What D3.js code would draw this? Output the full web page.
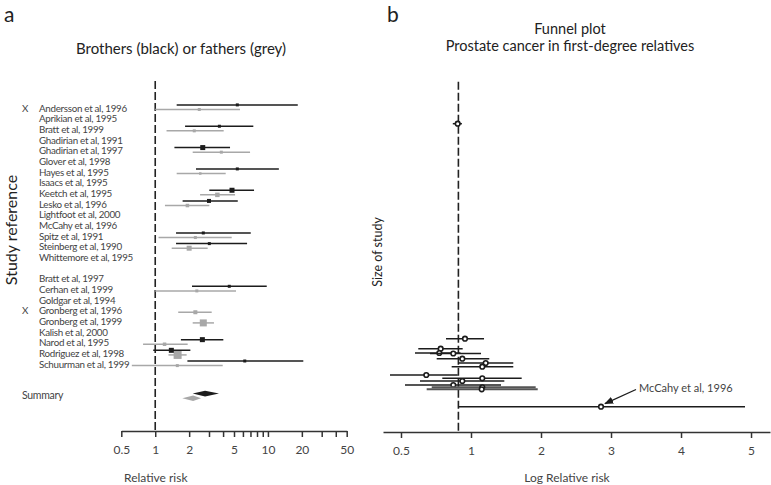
<!DOCTYPE html>
<html>
<head>
<meta charset="utf-8">
<style>
    body { margin: 0; background: #fff; }
    text { font-family: Lato, "Open Sans", sans-serif; }
    .axis path, .axis line { stroke: #333; stroke-width: 1.5; }
    .axis text { font-size: 12px; fill: #444; }
    .study { font-size: 9.8px; letter-spacing: -0.3px; fill: #444; }
</style>
</head>
<body>
<svg id="chart" width="771" height="485"></svg>
<script src="https://cdn.jsdelivr.net/npm/d3@7"></script>
<script>
// ---- panel a: forest plot data ----
const studies = ["Andersson et al, 1996", "Aprikian et al, 1995", "Bratt et al, 1999", "Ghadirian et al, 1991",
    "Ghadirian et al, 1997", "Glover et al, 1998", "Hayes et al, 1995", "Isaacs et al, 1995", "Keetch et al, 1995",
    "Lesko et al, 1996", "Lightfoot et al, 2000", "McCahy et al, 1996", "Spitz et al, 1991", "Steinberg et al, 1990",
    "Whittemore et al, 1995", "Bratt et al, 1997", "Cerhan et al, 1999", "Goldgar et al, 1994", "Gronberg et al, 1996",
    "Gronberg et al, 1999", "Kalish et al, 2000", "Narod et al, 1995", "Rodriguez et al, 1998", "Schuurman et al, 1999"]
const studyRow = [0,1,2,3,4,5,6,7,8,9,10,11,12,13,14,16,17,18,19,20,21,22,23,24]
const excluded = ["Andersson et al, 1996", "Gronberg et al, 1996"]

// brothers (black)
const brotherRR = [5.35, null, 3.71, null, 2.64, null, 5.35, null, 4.8, 3.0, null, null, 2.67, 3.02, null, null, 4.54, null, null, null, null, 2.62, 1.39, 6.23]
const brotherLo = [1.55, null, 1.84, null, 1.48, null, 2.3, null, 3.02, 1.75, null, null, 1.53, 1.53, null, null, 2.12, null, null, null, null, 1.69, 0.96, 1.93]
const brotherHi = [18.4, null, 7.42, null, 4.61, null, 12.5, null, 7.53, 5.4, null, null, 7.04, 6.53, null, null, 9.76, null, null, null, null, 4.02, 2.05, 20.6]
const brotherWeight = [3, 0, 3, 0, 5, 0, 3, 0, 5, 4, 0, 0, 3, 3, 0, 0, 3, 0, 0, 0, 0, 5, 5, 3]

// fathers (grey)
const fatherRR = [2.46, null, 2.22, null, 3.86, null, 2.51, null, 3.56, 1.93, null, null, 2.27, 2.0, null, null, 2.34, null, 2.27, 2.67, null, 1.21, 1.58, 1.57]
const fatherLo = [1.0, null, 1.26, null, 2.15, null, 1.55, null, 2.5, 1.22, null, null, 1.07, 1.4, null, null, 1.0, null, 1.6, 2.15, null, 0.78, 1.31, 0.62]
const fatherHi = [5.65, null, 4.05, null, 6.94, null, 4.22, null, 5.11, 3.02, null, null, 4.77, 2.92, null, null, 5.21, null, 3.17, 3.32, null, 1.94, 1.9, 3.97]
const fatherWeight = [3, 0, 3, 0, 3, 0, 2.5, 0, 4.5, 3.5, 0, 0, 3, 5, 0, 0, 3, 0, 4, 7, 0, 3.5, 8, 3]

// summary estimates [lo, rr, hi]
const summaryBrothers = [2.15, 2.77, 3.68]
const summaryFathers = [1.74, 2.17, 2.55]

const leftTicks = [0.5, 1, 2, 3, 4, 5, 6, 7, 8, 9, 10, 20, 30, 40, 50]
const leftTickLabels = [0.5, 1, 2, 5, 10, 20, 50]

// ---- panel b: funnel plot data ----
const funnelLogRR = [0.81, 0.914, 0.567, 0.547, 0.747, 0.876, 1.21, 1.161, 0.361, 1.161, 0.876, 0.747, 1.161, 1.153, 2.857]
const funnelLo = [0.74, 0.643, 0.247, 0.2, 0.414, 0.51, 0.819, 0.724, -0.157, 0.59, 0.271, 0.057, 0.439, 0.367, 0.819]
const funnelHi = [0.87, 1.186, 0.881, 0.85, 1.143, 1.261, 1.604, 1.604, 0.81, 1.724, 1.476, 1.429, 1.924, 1.953, 4.914]
const funnelSize = [308, 93, 83, 78.7, 78.2, 73, 68.7, 65, 56.7, 53.4, 50.7, 46.7, 44.4, 42.4, 25]
const funnelPooled = 0.82
const rightTicks = [0, 1, 2, 3, 4, 5]
const rightTickLabels = ["0.5", "1", "2", "3", "4", "5"]

const svg = d3.select("#chart")
const black = "#1c1c1c", grey = "#a8a8a8", darkGrey = "#555"

// ================= panel a =================
let xL = d3.scaleLog().domain([0.5, 50]).range([121.3, 346.7])
let yRow = d3.scaleLinear().domain([0, 27]).range([108.3, 396.4])

svg.append("text").attr("x", 4).attr("y", 22).attr("font-size", 21).attr("fill", "#222").text("a")
svg.append("text").attr("x", 181).attr("y", 54).attr("text-anchor", "middle")
    .attr("font-size", 15).attr("fill", "#222").text("Brothers (black) or fathers (grey)")

svg.append("text")
    .attr("transform", "translate(17,230) rotate(-90)")
    .attr("text-anchor", "middle").attr("font-size", 16).attr("fill", "#222")
    .text("Study reference")

// dashed line at RR = 1
svg.append("line")
    .attr("x1", xL(1)).attr("x2", xL(1))
    .attr("y1", 81).attr("y2", 430)
    .attr("stroke", "#222").attr("stroke-width", 1.6)
    .attr("stroke-dasharray", "8,3")

let rows = svg.append("g").selectAll("g")
    .data(studies.map((name, i) => ({
        name: name, row: studyRow[i],
        b: brotherRR[i] == null ? null : { rr: brotherRR[i], lo: brotherLo[i], hi: brotherHi[i], w: brotherWeight[i] },
        f: fatherRR[i] == null ? null : { rr: fatherRR[i], lo: fatherLo[i], hi: fatherHi[i], w: fatherWeight[i] }
    })))
    .enter()
    .append("g")
    .attr("transform", d => `translate(0,${yRow(d.row)})`)

rows.append("text")
    .attr("class", "study")
    .attr("x", 39).attr("dy", "0.35em")
    .text(d => d.name)

rows.filter(d => excluded.includes(d.name))
    .append("text")
    .attr("class", "study")
    .attr("x", 22).attr("dy", "0.35em")
    .text("X")

// draws one CI line with a square for the estimate
function drawEstimate(sel, key, colour, offset) {
    let g = sel.filter(d => d[key] != null)
    g.append("line")
        .attr("x1", d => xL(d[key].lo)).attr("x2", d => xL(d[key].hi))
        .attr("y1", offset).attr("y2", offset)
        .attr("stroke", colour).attr("stroke-width", 1.5)
    g.append("rect")
        .attr("x", d => xL(d[key].rr) - d[key].w / 2)
        .attr("y", d => offset - d[key].w / 2)
        .attr("width", d => d[key].w).attr("height", d => d[key].w)
        .attr("fill", colour)
}
drawEstimate(rows, "f", grey, 1.2)
drawEstimate(rows, "b", black, -3.4)

// summary diamonds
svg.append("text").attr("class", "study").attr("x", 22).attr("y", yRow(26.9)).attr("dy", "0.35em")
    .style("font-size", "10.5px").text("Summary")

function diamond(s, y, h) {
    return `M${xL(s[0])},${y} L${xL(s[1])},${y - h} L${xL(s[2])},${y} L${xL(s[1])},${y + h} Z`
}
svg.append("path").attr("d", diamond(summaryFathers, 398.3, 2.8)).attr("fill", grey)
svg.append("path").attr("d", diamond(summaryBrothers, 393.6, 2.9)).attr("fill", black)

svg.append("g")
    .attr("class", "axis")
    .attr("transform", "translate(0,431)")
    .call(d3.axisBottom(xL)
        .tickValues(leftTicks)
        .tickSize(6).tickSizeOuter(0)
        .tickPadding(8)
        .tickFormat(d => leftTickLabels.includes(d) ? String(d) : ""))

svg.append("text").attr("x", 124).attr("y", 482)
    .attr("font-size", 12).attr("fill", "#444").text("Relative risk")

// ================= panel b =================
let xR = d3.scaleLinear().domain([-0.257, 5.271]).range([383, 770])
let yR = d3.scaleLinear().domain([0, 350]).range([431.7, 81.7])

svg.append("text").attr("x", 387).attr("y", 22).attr("font-size", 21).attr("fill", "#222").text("b")
svg.append("text").attr("x", 570).attr("y", 34).attr("text-anchor", "middle")
    .attr("font-size", 14.5).attr("fill", "#222").text("Funnel plot")
svg.append("text").attr("x", 570).attr("y", 51).attr("text-anchor", "middle")
    .attr("font-size", 14.5).attr("fill", "#222").text("Prostate cancer in first-degree relatives")

svg.append("text")
    .attr("transform", "translate(382,252) rotate(-90)")
    .attr("text-anchor", "middle").attr("font-size", 12.5).attr("fill", "#222")
    .text("Size of study")

svg.append("line")
    .attr("x1", xR(funnelPooled)).attr("x2", xR(funnelPooled))
    .attr("y1", yR(350)).attr("y2", 431)
    .attr("stroke", "#222").attr("stroke-width", 1.6)
    .attr("stroke-dasharray", "8,3")

let funnel = funnelLogRR.map((v, i) => ({ rr: v, lo: funnelLo[i], hi: funnelHi[i], size: funnelSize[i], i: i }))

let fg = svg.append("g").selectAll("g")
    .data(funnel)
    .enter()
    .append("g")

fg.append("line")
    .attr("x1", d => xR(d.lo)).attr("x2", d => xR(d.hi))
    .attr("y1", d => yR(d.size)).attr("y2", d => yR(d.size))
    .attr("stroke", d => (d.i == 12 || d.i == 13) ? darkGrey : black)
    .attr("stroke-width", d => (d.i == 12 || d.i == 13) ? 2 : 1.5)

fg.append("circle")
    .attr("cx", d => xR(d.rr)).attr("cy", d => yR(d.size))
    .attr("r", 2.3)
    .attr("fill", "#fff").attr("stroke", black).attr("stroke-width", 1.6)

// annotation for the outlier
let out = funnel[funnel.length - 1]
svg.append("defs").append("marker")
    .attr("id", "arrow").attr("viewBox", "0 0 10 10")
    .attr("refX", 9).attr("refY", 5)
    .attr("markerWidth", 7).attr("markerHeight", 7)
    .attr("orient", "auto")
    .append("path").attr("d", "M0,1 L10,5 L0,9 Z").attr("fill", black)
svg.append("line")
    .attr("x1", 636).attr("y1", 389.5)
    .attr("x2", xR(out.rr) + 4).attr("y2", yR(out.size) - 3)
    .attr("stroke", black).attr("stroke-width", 1.3)
    .attr("marker-end", "url(#arrow)")
svg.append("text").attr("x", 639).attr("y", 388).attr("dy", "0.35em")
    .attr("font-size", 11).attr("fill", "#444").text("McCahy et al, 1996")

svg.append("g")
    .attr("class", "axis")
    .attr("transform", "translate(0,432)")
    .call(d3.axisBottom(xR)
        .tickValues(rightTicks)
        .tickSize(6).tickSizeOuter(0)
        .tickPadding(8)
        .tickFormat((d, i) => rightTickLabels[i]))

svg.append("text").attr("x", 567).attr("y", 482).attr("text-anchor", "middle")
    .attr("font-size", 12).attr("fill", "#444").text("Log Relative risk")
</script>
</body>
</html>
